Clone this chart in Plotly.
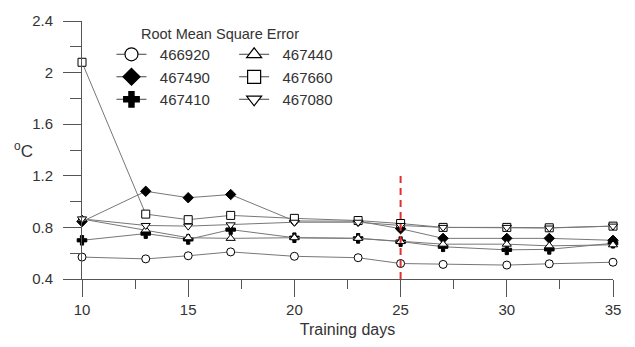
import plotly.graph_objects as go

# ---- data ----
training_days = [10, 13, 15, 17, 20, 23, 25, 27, 30, 32, 35]
s466920 = [0.57, 0.556, 0.58, 0.61, 0.576, 0.565, 0.52, 0.513, 0.508, 0.518, 0.53]
s467490 = [0.845, 1.08, 1.03, 1.055, 0.85, 0.848, 0.79, 0.715, 0.715, 0.715, 0.70]
s467410 = [0.70, 0.752, 0.707, 0.783, 0.72, 0.715, 0.69, 0.65, 0.626, 0.63, 0.677]
s467440 = [0.865, 0.78, 0.72, 0.715, 0.72, 0.715, 0.69, 0.67, 0.67, 0.657, 0.665]
s467660 = [2.08, 0.903, 0.86, 0.893, 0.87, 0.853, 0.83, 0.80, 0.80, 0.797, 0.81]
s467080 = [0.866, 0.815, 0.81, 0.82, 0.84, 0.84, 0.815, 0.80, 0.80, 0.795, 0.81]
cutoff_day = 25
cutoff_top = 1.21
x_tickvals = [10, 15, 20, 25, 30, 35]
y_tickvals = [0.4, 0.8, 1.2, 1.6, 2.0, 2.4]
y_ticktext = ["0.4", "0.8", "1.2", "1.6", "2", "2.4"]

FONT = "Liberation Sans, Arial, sans-serif"
TXT = "#333333"
LINE = "#777777"
NB = "\u00a0\u00a0"

series = [
    ("466920", s466920, "circle", "white", "legend"),
    ("467490", s467490, "diamond", "black", "legend"),
    ("467410", s467410, "cross", "black", "legend"),
    ("467440", s467440, "triangle-up", "white", "legend2"),
    ("467660", s467660, "square", "white", "legend2"),
    ("467080", s467080, "triangle-down", "white", "legend2"),
]

fig = go.Figure()
for name, vals, sym, fill, lg in series:
    fig.add_trace(go.Scatter(
        x=training_days, y=vals, name=name, mode="lines+markers",
        line=dict(color=LINE, width=1),
        marker=dict(symbol=sym, size=8, color=fill, line=dict(color="black", width=1)),
        cliponaxis=False, showlegend=False,
    ))
# legend entries (no data drawn), larger symbols as in the reference key
for name, vals, sym, fill, lg in series:
    fig.add_trace(go.Scatter(
        x=[None], y=[None], name=NB + name, mode="lines+markers",
        line=dict(color="#444444", width=1),
        marker=dict(symbol=sym, size=13, color=fill, line=dict(color="black", width=1.2)),
        legend=lg, showlegend=True,
    ))

fig.add_shape(type="line", xref="x", yref="y", x0=cutoff_day, x1=cutoff_day,
              y0=0.4, y1=cutoff_top, line=dict(color="#e03030", width=2, dash="7px,5px"))

legend_common = dict(
    font=dict(family=FONT, size=15, color=TXT),
    bgcolor="rgba(0,0,0,0)",
    xanchor="left", yanchor="top", orientation="v",
    tracegroupgap=0,
)
fig.update_layout(
    width=635, height=347,
    margin=dict(l=82, r=22, t=15, b=67),
    paper_bgcolor="white", plot_bgcolor="white",
    font=dict(family=FONT, size=15, color=TXT),
    showlegend=True,
    legend=dict(x=0.0555, y=0.934, **legend_common),
    legend2=dict(x=0.2865, y=0.934, **legend_common),
    xaxis=dict(
        range=[10, 35], tickvals=x_tickvals, ticks="outside", ticklen=17,
        tickcolor="#555", showline=True, linecolor="#555", linewidth=1,
        showgrid=False, zeroline=False, tickfont=dict(size=15, color=TXT),
        minor=dict(dtick=2.5, tick0=10, ticks="outside", ticklen=9, tickcolor="#555"),
        title=dict(text="Training days", font=dict(size=16, color=TXT), standoff=6),
    ),
    yaxis=dict(
        range=[0.4, 2.4], tickvals=y_tickvals, ticktext=y_ticktext, ticks="outside",
        ticklen=18, tickcolor="#555", showline=True, linecolor="#555", linewidth=1,
        showgrid=False, zeroline=False, tickfont=dict(size=15, color=TXT),
        ticklabelstandoff=7,
        minor=dict(dtick=0.2, tick0=0.4, ticks="outside", ticklen=11, tickcolor="#555"),
    ),
)
fig.add_annotation(text="Root Mean Square Error", xref="paper", yref="paper",
                   x=0.26, y=0.951, xanchor="center", yanchor="middle", showarrow=False,
                   font=dict(family=FONT, size=14.5, color=TXT))
fig.add_annotation(text="<sup>o</sup>C", xref="paper", yref="y", x=-0.132, y=1.4,
                   xanchor="left", showarrow=False,
                   font=dict(family=FONT, size=17, color=TXT))

fig.write_html("out.html")
